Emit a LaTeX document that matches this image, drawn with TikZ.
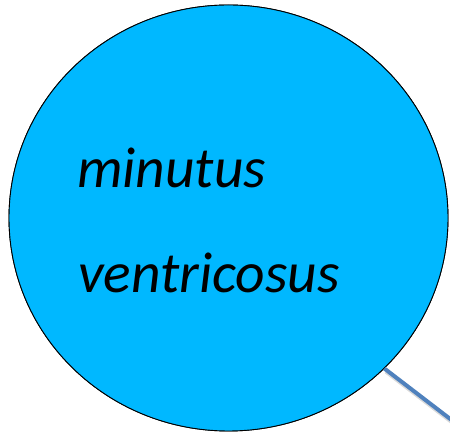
\documentclass[tikz,border=0pt]{standalone}
\usepackage{fontspec}
\setmainfont{Carlito}
\usetikzlibrary{shapes.geometric}
\definecolor{bubble}{RGB}{0,184,255}
\definecolor{linkblue}{RGB}{79,129,189}
\tikzset{
  bubblenode/.style={ellipse, draw=black, line width=0.9pt, fill=bubble, minimum width=439pt, minimum height=426pt, inner sep=0pt},
  label/.style={anchor=base west, inner sep=0pt, font=\fontsize{57.5}{60}\selectfont\itshape},
  linkline/.style={draw=linkblue, line width=4pt},
  linkshadow/.style={draw=black!25, line width=4pt, opacity=0.6}
}
\begin{document}
\begin{tikzpicture}[x=1pt,y=1pt]
\useasboundingbox (0,0) rectangle (450,433);
\node[bubblenode] (c) at (228.5,215) {};
\coordinate (e) at (462,5);
\draw[linkshadow] ([shift={(1.5,-3)}]c.-44) -- ([shift={(1.5,-3)}]e);
\node[bubblenode] at (c) {};
\draw[linkline] (c.-44) -- (e);
\node[label] (m) at (77,245) {minutus};
\node[label] (v) at (78,140) {ventricosus};
\end{tikzpicture}
\end{document}
